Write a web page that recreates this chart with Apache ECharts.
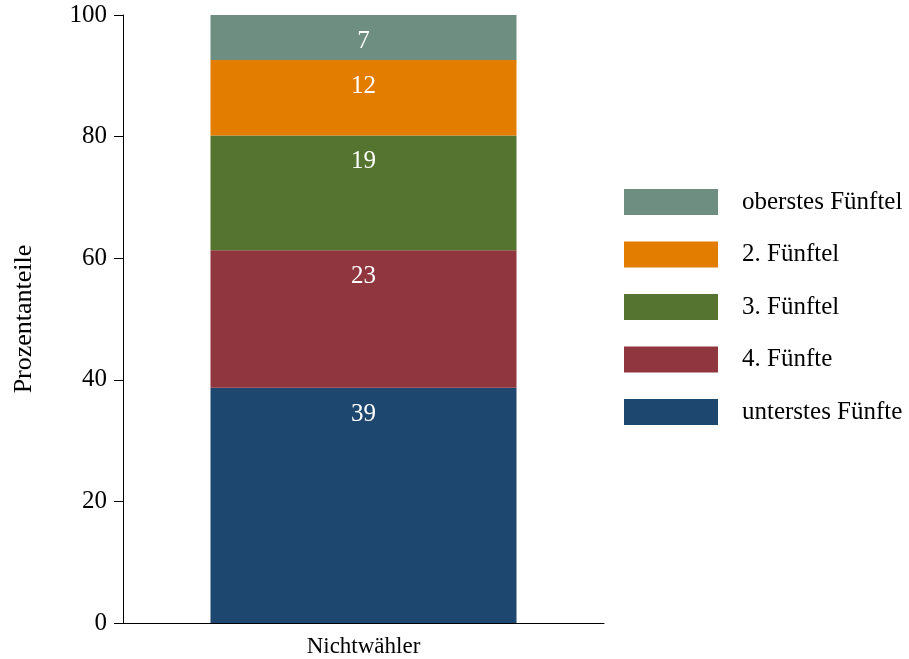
<!DOCTYPE html>
<html>
<head>
<meta charset="utf-8">
<script src="https://cdn.jsdelivr.net/npm/echarts@6/dist/echarts.min.js"></script>
<style>html,body{margin:0;padding:0;background:#fff;}#c{width:909px;height:659px;}</style>
</head>
<body>
<div id="c"></div>
<script>
const categories = ['Nichtwähler'];
const seriesNames = ['unterstes Fünfte', '4. Fünfte', '3. Fünftel', '2. Fünftel', 'oberstes Fünftel'];
const seriesValues = [[38.7], [22.6], [18.9], [12.4], [7.4]];
const seriesColors = ['#1d476e', '#8f363e', '#55742f', '#e37d00', '#6e8e82'];
const yTicks = [0, 20, 40, 60, 80, 100];

const FONT = 'Liberation Serif';
const chart = echarts.init(document.getElementById('c'));
chart.setOption({
  animation: false,
  backgroundColor: '#ffffff',
  grid: { left: 123, right: 305, top: 15, bottom: 36, containLabel: false, outerBoundsMode: 'none' },
  legend: {
    data: seriesNames.slice().reverse(),
    orient: 'vertical',
    left: 624,
    top: 189,
    padding: 0,
    icon: 'rect',
    itemWidth: 94,
    itemHeight: 26,
    itemGap: 26.5,
    textStyle: { fontFamily: FONT, fontSize: 25, color: '#000', padding: [0, 0, 0, 19], lineHeight: 26 }
  },
  xAxis: {
    type: 'category',
    data: categories,
    axisLine: { lineStyle: { color: '#000', width: 1 } },
    axisTick: { show: false },
    axisLabel: { fontFamily: FONT, fontSize: 23, color: '#000', margin: 12 }
  },
  yAxis: {
    type: 'value',
    min: yTicks[0],
    max: yTicks[yTicks.length - 1],
    interval: 20,
    name: 'Prozentanteile',
    nameLocation: 'middle',
    nameGap: 86,
    nameTextStyle: { fontFamily: FONT, fontSize: 26, color: '#000' },
    axisLine: { show: true, lineStyle: { color: '#000', width: 1 } },
    axisTick: { show: true, length: 9, lineStyle: { color: '#000' } },
    splitLine: { show: false },
    axisLabel: { fontFamily: FONT, fontSize: 25, color: '#000', margin: 16 }
  },
  series: seriesNames.map((n, i) => ({
    name: n,
    type: 'bar',
    stack: 'total',
    barWidth: 306,
    data: seriesValues[i],
    itemStyle: { color: seriesColors[i] },
    label: {
      show: true,
      position: 'insideTop',
      distance: 14,
      fontFamily: FONT,
      fontSize: 25,
      color: '#fff',
      formatter: p => Math.round(p.value)
    }
  }))
});
</script>
</body>
</html>
